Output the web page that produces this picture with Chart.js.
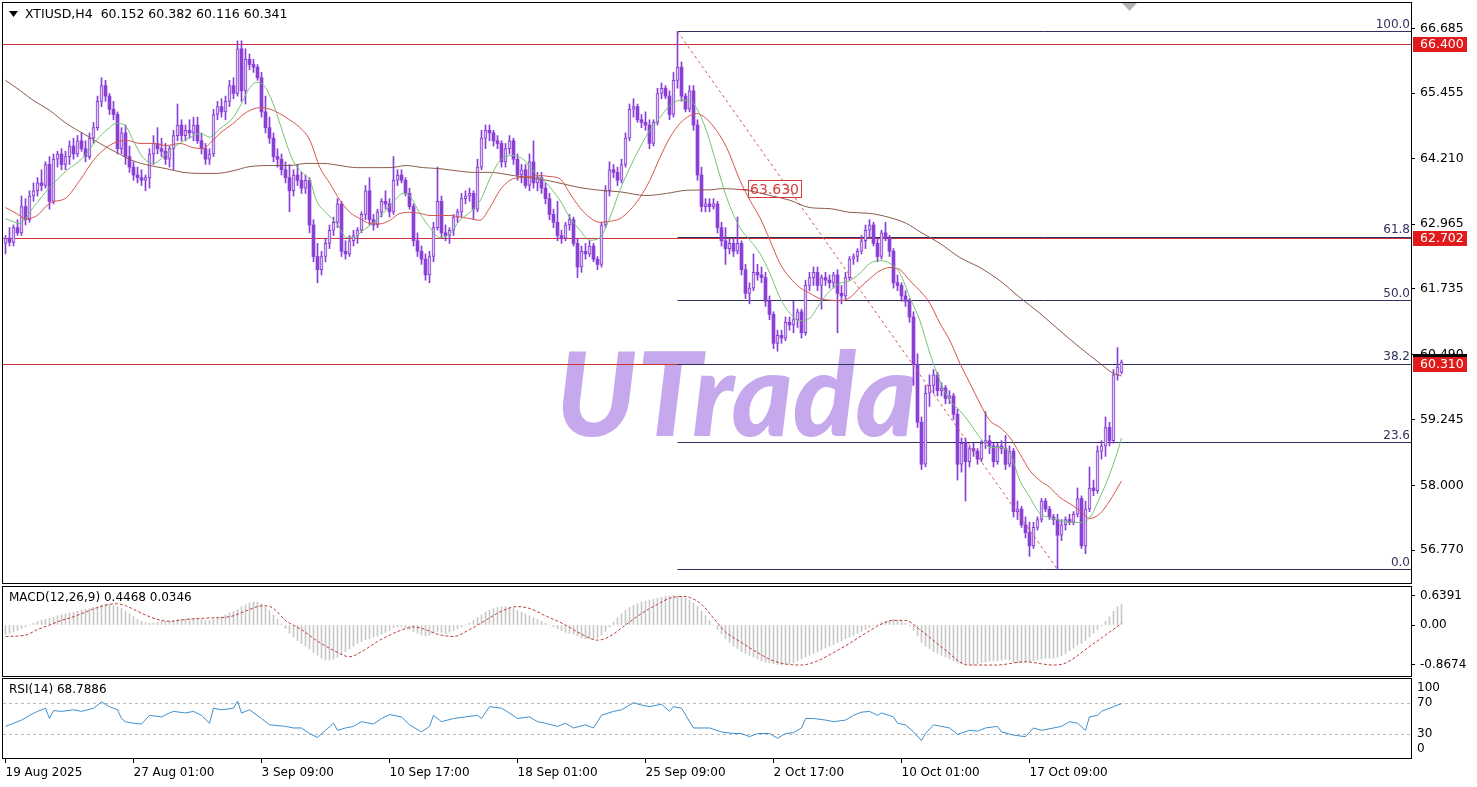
<!DOCTYPE html>
<html><head><meta charset="utf-8">
<script src="https://cdn.jsdelivr.net/npm/chart.js@4.4.1/dist/chart.umd.min.js"></script>
<style>
html,body{margin:0;padding:0;background:#fff;}
body{width:1477px;height:787px;overflow:hidden;position:relative;}
.pane{position:absolute;left:0;width:1477px;}
</style></head><body>
<div class="pane" style="top:0;height:585px"><canvas id="cMain"></canvas></div>
<div class="pane" style="top:585px;height:93px"><canvas id="cMacd"></canvas></div>
<div class="pane" style="top:678px;height:109px"><canvas id="cRsi"></canvas></div>
<script>
// ---------------- DATA ----------------
const symbol = 'XTIUSD,H4';
const xLabels = ['19 Aug 2025','27 Aug 01:00','3 Sep 09:00','10 Sep 17:00','18 Sep 01:00','25 Sep 09:00','2 Oct 17:00','10 Oct 01:00','17 Oct 09:00'];
const xLabelIdx = [0,32,64,96,128,160,192,224,256];
const priceTicks = [66.685,65.455,64.210,62.965,61.735,60.490,59.245,58.000,56.770];
const hLevels = [66.400,62.702,60.310];
const fibPct = [0,23.6,38.2,50.0,61.8,100.0];
const fibHiIdx = 168, fibLoIdx = 263;
const markIdx = 185.5, markVal = 63.630;
const macdTicks = [0.6391,0,-0.8674];
const rsiTicks = [100,70,30,0];
const rsiLevels = [70,30];

const opens = [
62.60,62.70,62.62,62.90,62.80,63.30,63.05,63.50,
63.60,63.75,63.70,64.10,63.40,64.20,64.30,64.10,
64.25,64.45,64.30,64.55,64.40,64.25,64.60,64.80,
65.30,65.60,65.40,65.15,65.05,64.40,64.70,64.25,
64.05,63.90,63.85,63.80,63.85,64.30,64.50,64.40,
64.35,64.20,64.40,64.65,64.85,64.65,64.75,64.70,
64.85,64.55,64.40,64.20,64.30,65.05,65.20,65.10,
65.30,65.60,65.45,66.30,65.50,66.10,66.00,65.95,
65.75,65.10,64.80,64.60,64.25,64.20,64.00,63.85,
63.60,63.90,63.80,63.65,63.80,62.95,62.35,62.10,
62.35,62.60,62.85,63.00,63.35,62.45,62.40,62.65,
62.75,62.85,63.15,63.60,63.05,62.95,63.20,63.40,
63.35,63.20,63.80,63.90,63.80,63.55,63.30,62.65,
62.45,62.30,62.00,62.35,62.90,63.40,62.80,62.75,
62.85,63.10,63.20,63.45,63.50,63.55,63.25,64.05,
64.60,64.75,64.70,64.55,64.50,64.15,64.40,64.55,
64.20,63.90,64.00,63.70,64.15,63.75,63.85,63.65,
63.45,63.15,63.00,62.75,62.70,62.95,63.05,62.60,
62.15,62.45,62.40,62.55,62.30,62.20,62.95,63.60,
64.00,63.95,63.80,64.10,64.60,65.15,65.20,64.95,
64.90,64.85,64.50,64.90,65.45,65.55,65.40,65.05,
65.70,65.95,65.40,65.15,65.50,64.85,63.90,63.30,
63.35,63.30,63.35,62.90,62.65,62.50,62.60,62.45,
62.60,62.10,61.65,61.75,62.05,62.00,61.95,61.50,
61.25,60.70,60.85,60.80,61.10,61.05,61.15,61.30,
60.90,61.80,61.95,62.05,61.80,61.95,61.90,61.85,
62.00,61.65,61.60,61.95,62.30,62.35,62.45,62.65,
62.85,62.95,62.60,62.35,62.80,62.70,62.45,61.85,
61.80,61.60,61.50,61.20,60.30,59.20,58.40,59.75,
59.90,60.10,59.80,59.85,59.65,59.70,59.35,58.40,
58.80,58.45,58.70,58.65,58.50,58.80,58.85,58.75,
58.45,58.75,58.70,58.40,58.65,57.50,57.55,57.25,
57.10,56.85,57.20,57.35,57.70,57.55,57.40,57.35,
57.05,57.25,57.35,57.30,57.45,57.75,56.85,57.55,
57.95,57.90,58.65,58.75,59.10,58.85,60.10,60.152];
const highs = [
62.75,62.90,62.95,63.05,63.50,63.45,63.60,63.75,
63.85,64.00,64.15,64.25,64.30,64.35,64.40,64.35,
64.55,64.60,64.65,64.70,64.55,64.70,64.90,65.40,
65.75,65.70,65.45,65.30,65.10,64.80,64.85,64.45,
64.15,64.05,64.00,63.90,64.40,64.65,64.80,64.60,
64.50,64.45,64.75,65.25,64.95,64.85,64.95,65.00,
65.00,64.70,64.50,64.40,65.15,65.30,65.35,65.40,
65.70,65.75,66.45,66.45,66.30,66.20,66.10,66.00,
65.85,65.40,65.00,64.70,64.40,64.30,64.15,64.10,
64.00,64.10,63.95,63.90,63.85,63.05,62.60,62.45,
62.70,62.95,63.10,63.45,63.40,62.65,62.75,62.85,
62.90,63.20,63.70,63.85,63.15,63.25,63.45,63.60,
63.45,64.25,64.00,64.00,63.85,63.65,63.35,62.80,
62.55,62.40,62.45,63.00,64.05,63.50,62.95,62.90,
63.15,63.25,63.55,63.60,63.65,63.60,64.20,64.75,
64.85,64.85,64.75,64.65,64.55,64.50,64.65,64.60,
64.30,64.10,64.10,64.30,64.55,63.95,63.95,63.75,
63.55,63.25,63.40,62.85,63.00,63.15,63.10,62.70,
62.55,62.60,62.65,62.60,62.35,63.00,63.70,64.15,
64.10,64.05,64.20,64.70,65.25,65.35,65.25,65.05,
65.10,64.95,64.95,65.55,65.65,65.60,65.50,65.85,
66.63,66.05,65.45,65.60,65.60,64.95,64.05,63.45,
63.45,63.45,63.40,63.00,62.90,62.70,62.70,63.10,
62.65,62.20,61.85,62.40,62.20,62.15,62.05,61.60,
61.30,60.95,60.95,61.20,61.20,61.50,61.35,61.35,
61.90,62.05,62.15,62.15,62.00,62.05,62.00,62.05,
62.10,61.80,62.05,62.35,62.40,62.50,62.75,62.95,
63.05,63.00,62.70,62.85,63.00,62.75,62.50,62.00,
61.85,61.70,61.55,61.30,60.50,59.30,59.90,60.10,
60.20,60.15,59.95,59.90,59.80,59.75,59.45,58.90,
58.90,58.75,58.80,58.70,58.85,59.40,58.95,58.80,
58.80,58.85,58.95,58.75,58.70,57.70,57.60,57.40,
57.30,57.30,57.40,57.75,57.75,57.60,57.45,57.45,
57.35,57.40,57.45,57.50,57.95,57.80,57.70,58.35,
58.10,58.75,58.85,59.30,59.20,60.20,60.62,60.382];
const lows = [
62.40,62.55,62.55,62.75,62.75,62.95,63.00,63.40,
63.50,63.60,63.65,63.25,63.35,64.05,64.00,64.00,
64.10,64.20,64.25,64.35,64.15,64.20,64.50,64.75,
65.20,65.30,65.05,64.95,64.30,64.30,64.10,63.95,
63.80,63.75,63.70,63.60,63.65,64.10,64.30,64.25,
64.10,64.05,64.00,64.55,64.55,64.55,64.60,64.55,
64.50,64.30,64.10,64.10,64.25,64.95,65.00,64.95,
65.20,65.35,65.40,65.30,65.25,65.90,65.85,65.70,
65.00,64.70,64.50,64.15,64.05,63.90,63.75,63.20,
63.50,63.70,63.55,63.55,62.80,62.25,61.85,62.00,
62.25,62.50,62.75,62.90,62.35,62.30,62.35,62.55,
62.60,62.80,63.05,62.95,62.85,62.90,63.10,63.25,
63.10,63.15,63.70,63.75,63.50,63.25,62.55,62.35,
62.20,61.90,61.85,62.25,62.85,62.70,62.65,62.60,
62.75,63.00,63.10,63.35,63.40,63.05,63.20,64.00,
64.40,64.55,64.45,64.40,64.05,64.05,64.30,64.10,
63.80,63.75,63.65,63.60,63.65,63.60,63.55,63.35,
63.05,62.90,62.65,62.60,62.65,62.85,62.55,61.95,
62.05,62.30,62.35,62.25,62.10,62.15,62.90,63.50,
63.85,63.70,63.75,64.05,64.55,65.00,64.90,64.80,
64.75,64.40,64.45,64.85,65.35,65.35,64.95,65.00,
65.55,65.30,65.10,65.10,64.75,63.80,63.20,63.20,
63.20,63.25,62.80,62.55,62.20,62.40,62.35,62.40,
62.00,61.55,61.45,61.70,61.90,61.85,61.40,61.15,
60.60,60.55,60.70,60.75,60.95,60.90,61.00,60.80,
60.85,61.70,61.80,61.70,61.35,61.80,61.75,61.75,
60.90,61.45,61.55,61.90,62.20,62.25,62.40,62.50,
62.70,62.55,62.25,62.30,62.65,62.35,61.75,61.70,
61.50,61.40,61.10,59.90,59.10,58.30,58.35,59.50,
59.75,59.70,59.70,59.55,59.55,59.25,58.10,58.25,
57.70,58.35,58.55,58.40,58.45,58.70,58.60,58.35,
58.40,58.60,58.30,58.35,57.40,57.35,57.20,57.00,
56.65,56.80,57.15,57.30,57.50,57.35,57.25,56.40,
56.95,57.15,57.25,57.25,57.40,56.80,56.70,57.50,
57.80,57.85,58.50,58.55,58.75,58.80,60.00,60.116];
const closes = [
62.70,62.62,62.90,62.80,63.30,63.05,63.50,63.60,
63.75,63.70,64.10,63.40,64.20,64.30,64.10,64.25,
64.45,64.30,64.55,64.40,64.25,64.60,64.80,65.30,
65.60,65.40,65.15,65.05,64.40,64.70,64.25,64.05,
63.90,63.85,63.80,63.85,64.30,64.50,64.40,64.35,
64.20,64.40,64.65,64.85,64.65,64.75,64.70,64.85,
64.55,64.40,64.20,64.30,65.05,65.20,65.10,65.30,
65.60,65.45,66.30,65.50,66.10,66.00,65.95,65.75,
65.10,64.80,64.60,64.25,64.20,64.00,63.85,63.60,
63.90,63.80,63.65,63.80,62.95,62.35,62.10,62.35,
62.60,62.85,63.00,63.35,62.45,62.40,62.65,62.75,
62.85,63.15,63.60,63.05,62.95,63.20,63.40,63.35,
63.20,63.80,63.90,63.80,63.55,63.30,62.65,62.45,
62.30,62.00,62.35,62.90,63.40,62.80,62.75,62.85,
63.10,63.20,63.45,63.50,63.55,63.25,64.05,64.60,
64.75,64.70,64.55,64.50,64.15,64.40,64.55,64.20,
63.90,64.00,63.70,64.15,63.75,63.85,63.65,63.45,
63.15,63.00,62.75,62.70,62.95,63.05,62.60,62.15,
62.45,62.40,62.55,62.30,62.20,62.95,63.60,64.00,
63.95,63.80,64.10,64.60,65.15,65.20,64.95,64.90,
64.85,64.50,64.90,65.45,65.55,65.40,65.05,65.70,
65.95,65.40,65.15,65.50,64.85,63.90,63.30,63.35,
63.30,63.35,62.90,62.65,62.50,62.60,62.45,62.60,
62.10,61.65,61.75,62.05,62.00,61.95,61.50,61.25,
60.70,60.85,60.80,61.10,61.05,61.15,61.30,60.90,
61.80,61.95,62.05,61.80,61.95,61.90,61.85,62.00,
61.65,61.60,61.95,62.30,62.35,62.45,62.65,62.85,
62.95,62.60,62.35,62.80,62.70,62.45,61.85,61.80,
61.60,61.50,61.20,60.30,59.20,58.40,59.75,59.90,
60.10,59.80,59.85,59.65,59.70,59.35,58.40,58.80,
58.45,58.70,58.65,58.50,58.80,58.85,58.75,58.45,
58.75,58.70,58.40,58.65,57.50,57.55,57.25,57.10,
56.85,57.20,57.35,57.70,57.55,57.40,57.35,57.05,
57.25,57.35,57.30,57.45,57.75,56.85,57.55,57.95,
57.90,58.65,58.75,59.10,58.85,60.10,60.25,60.341];

// moving averages: [bar index, value]
const maFast = [[0,63.07],[3.6,62.98],[6.9,63.28],[11,63.66],[15.2,63.98],[19.4,64.23],[22.7,64.56],[26,64.80],[27.7,64.88],[29.8,64.85],[31.9,64.56],[34.4,64.23],[36.9,64.12],[40.2,64.30],[42.7,64.46],[46.1,64.61],[48.6,64.69],[51.1,64.62],[53.6,64.78],[56.9,64.99],[59.4,65.32],[60.2,65.45],[62.7,65.66],[64.4,65.62],[66.9,65.26],[69.4,64.69],[71.9,64.17],[74.4,63.93],[76.1,63.80],[77.7,63.42],[80.3,63.17],[82.8,62.98],[85.3,62.71],[86.9,62.71],[89.4,62.85],[91.9,62.98],[94.4,63.17],[96.9,63.38],[99.4,63.55],[101.1,63.50],[103.6,63.17],[106.1,62.90],[108.6,62.71],[111.1,62.78],[113.6,63.04],[116.1,63.19],[118.6,63.40],[121.1,63.83],[123.6,64.17],[126.9,64.27],[129.4,64.20],[131.9,63.98],[135.3,63.74],[138.6,63.42],[141.1,63.09],[143.6,62.85],[146.1,62.66],[148.6,62.71],[151.1,63.09],[153.6,63.61],[156.1,64.04],[158.6,64.42],[161.1,64.75],[163.6,64.99],[166.1,65.22],[168.6,65.32],[171.1,65.32],[172.7,65.18],[175.2,64.75],[177.7,64.12],[180.3,63.47],[183.6,62.90],[186.1,62.66],[188.6,62.41],[191.1,62.03],[193.6,61.57],[196.1,61.27],[198.6,61.13],[201.1,61.18],[203.6,61.46],[206.1,61.70],[208.6,61.84],[211.1,61.89],[213.6,62.03],[216.1,62.22],[218.6,62.27],[221.1,62.22],[223.6,62.03],[226.1,61.57],[228.6,61.13],[231.1,60.51],[233.6,59.99],[236.1,59.61],[238.6,59.42],[241.1,59.18],[243.6,58.91],[246.1,58.72],[248.6,58.72],[251.1,58.60],[253.6,58.09],[256.1,57.77],[258.6,57.46],[261.1,57.39],[263.6,57.33],[266.1,57.30],[268.6,57.29],[271.1,57.39],[273.6,57.77],[276.1,58.22],[278.6,58.79],[279,58.90]];
const maMid = [[0,63.28],[2.7,63.17],[5.2,63.07],[7.7,63.12],[11,63.36],[15.2,63.47],[18.6,63.80],[21.9,64.17],[24.4,64.37],[26.9,64.50],[30.2,64.56],[33.6,64.50],[36.9,64.50],[40.2,64.46],[43.6,64.50],[46.9,64.42],[49.4,64.40],[51.1,64.50],[53.6,64.69],[56.9,64.88],[60.2,65.09],[63.6,65.18],[66.9,65.13],[70.2,64.99],[73.6,64.80],[76.1,64.56],[78.6,64.04],[81.1,63.74],[83.6,63.42],[86.1,63.19],[88.6,63.07],[91.1,62.98],[93.6,62.97],[96.1,63.04],[98.6,63.17],[101.1,63.19],[103.6,63.17],[106.1,63.13],[108.6,63.13],[111.1,63.13],[113.6,63.10],[116.1,63.07],[118.6,63.04],[121.1,63.28],[123.6,63.61],[126.1,63.80],[128.6,63.85],[131.1,63.87],[133.6,63.89],[136.1,63.87],[138.6,63.83],[141.1,63.55],[143.6,63.28],[146.1,63.09],[148.6,63.00],[151.1,63.02],[153.6,63.07],[156.1,63.23],[158.6,63.47],[161.1,63.80],[163.6,64.23],[166.1,64.61],[168.6,64.88],[171.1,65.03],[172.7,65.07],[175.2,64.97],[177.7,64.75],[180.3,64.42],[183.6,63.80],[186.1,63.42],[188.6,63.09],[191.1,62.66],[193.6,62.22],[196.1,61.95],[198.6,61.76],[201.1,61.65],[203.6,61.55],[206.1,61.52],[208.6,61.51],[211.1,61.57],[213.6,61.76],[216.1,61.93],[218.6,62.08],[221.1,62.14],[223.6,62.10],[226.1,61.89],[228.6,61.70],[231.1,61.46],[233.6,61.08],[236.1,60.75],[238.6,60.32],[241.1,59.94],[243.6,59.56],[246.1,59.23],[248.6,59.10],[251.1,58.91],[253.6,58.60],[256.1,58.28],[258.6,58.09],[261.1,57.96],[263.6,57.77],[266.1,57.65],[268.6,57.52],[271.1,57.37],[273.6,57.46],[276.1,57.71],[278.6,58.03],[279,58.08]];
const maSlow = [[0,65.70],[3.6,65.51],[6.9,65.32],[11,65.13],[15.2,64.88],[19.4,64.69],[23.6,64.50],[27.7,64.33],[31.9,64.17],[36.1,64.08],[40.2,64.02],[44.4,63.95],[48.6,63.93],[52.8,63.93],[56.9,63.98],[61.1,64.06],[66.9,64.08],[71.1,64.08],[75.2,64.12],[79.4,64.12],[83.6,64.08],[87.7,64.04],[91.9,64.04],[96.1,64.04],[100.2,64.08],[104.4,64.04],[108.6,64.02],[112.7,63.98],[116.9,63.95],[121.1,63.95],[126.9,63.89],[135.3,63.80],[143.6,63.66],[148.6,63.61],[153.6,63.58],[160.2,63.51],[165.3,63.55],[170.3,63.61],[176.9,63.62],[178.6,63.64],[185.2,63.61],[191.1,63.51],[196.1,63.42],[201.1,63.28],[206.1,63.26],[211.1,63.19],[216.1,63.17],[221.1,63.09],[225.2,62.98],[228.6,62.82],[233.6,62.60],[238.6,62.33],[243.6,62.14],[248.6,61.89],[253.6,61.57],[258.6,61.27],[263.6,60.94],[268.6,60.62],[273.6,60.32],[276.9,60.13],[279,60.08]];

// MACD(12,26,9): main (histogram), one value per bar; signal
const macdMain = [
-0.20,-0.18,-0.15,-0.12,-0.08,-0.04,0.00,0.04,0.08,0.10,
0.12,0.14,0.17,0.20,0.22,0.24,0.26,0.28,0.30,0.32,
0.34,0.36,0.38,0.40,0.43,0.45,0.44,0.42,0.40,0.36,
0.30,0.24,0.18,0.12,0.08,0.05,0.04,0.05,0.06,0.08,
0.08,0.09,0.10,0.12,0.12,0.13,0.14,0.13,0.12,0.12,
0.10,0.10,0.12,0.15,0.18,0.22,0.26,0.30,0.34,0.40,
0.44,0.48,0.50,0.50,0.46,0.40,0.32,0.22,0.12,0.02,
-0.08,-0.18,-0.26,-0.34,-0.40,-0.46,-0.52,-0.60,-0.66,-0.72,
-0.76,-0.76,-0.74,-0.70,-0.64,-0.58,-0.52,-0.46,-0.40,-0.36,
-0.32,-0.30,-0.26,-0.24,-0.20,-0.16,-0.12,-0.06,-0.04,-0.04,
-0.06,-0.10,-0.14,-0.18,-0.22,-0.24,-0.22,-0.18,-0.14,-0.16,
-0.18,-0.16,-0.12,-0.08,-0.04,0.00,0.04,0.10,0.16,0.22,
0.28,0.32,0.36,0.38,0.40,0.40,0.38,0.36,0.32,0.28,
0.24,0.20,0.16,0.12,0.08,0.04,0.00,-0.04,-0.08,-0.12,
-0.16,-0.18,-0.20,-0.24,-0.28,-0.30,-0.30,-0.30,-0.28,-0.22,
-0.14,-0.04,0.06,0.16,0.24,0.32,0.38,0.42,0.46,0.50,
0.52,0.54,0.56,0.58,0.60,0.62,0.63,0.6391,0.63,0.62,
0.58,0.54,0.48,0.40,0.30,0.20,0.10,0.00,-0.10,-0.20,
-0.30,-0.38,-0.46,-0.52,-0.58,-0.62,-0.66,-0.70,-0.74,-0.78,
-0.80,-0.82,-0.84,-0.86,-0.8674,-0.86,-0.84,-0.82,-0.78,-0.74,
-0.70,-0.66,-0.62,-0.58,-0.54,-0.50,-0.46,-0.42,-0.38,-0.34,
-0.30,-0.26,-0.22,-0.18,-0.14,-0.10,-0.06,-0.02,0.02,0.06,
0.08,0.10,0.12,0.10,0.08,0.04,-0.02,-0.12,-0.24,-0.38,
-0.46,-0.52,-0.58,-0.62,-0.66,-0.70,-0.74,-0.78,-0.82,-0.84,
-0.86,-0.86,-0.86,-0.84,-0.82,-0.80,-0.78,-0.78,-0.78,-0.76,
-0.74,-0.76,-0.80,-0.82,-0.82,-0.80,-0.80,-0.78,-0.76,-0.74,
-0.72,-0.72,-0.72,-0.70,-0.66,-0.62,-0.56,-0.50,-0.44,-0.40,
-0.34,-0.26,-0.18,-0.10,-0.02,0.08,0.18,0.30,0.40,0.4468];
const macdSignal = [[0,-0.25],[5,-0.22],[8,-0.10],[11,0.00],[14,0.10],[17,0.18],[20,0.28],[23,0.38],[26,0.45],[28,0.46],[30,0.42],[33,0.30],[36,0.18],[39,0.10],[41,0.08],[45,0.12],[50,0.15],[56,0.18],[60,0.30],[63,0.40],[65,0.42],[67,0.36],[70,0.10],[74,-0.10],[78,-0.35],[82,-0.55],[86,-0.69],[89,-0.58],[93,-0.36],[97,-0.18],[100,-0.08],[102,-0.04],[105,-0.10],[108,-0.20],[112,-0.25],[116,-0.10],[120,0.10],[124,0.30],[128,0.40],[131,0.36],[135,0.20],[140,0.00],[144,-0.20],[148,-0.33],[151,-0.25],[155,0.00],[159,0.25],[163,0.45],[166,0.58],[169,0.62],[171,0.60],[174,0.45],[177,0.15],[180,-0.15],[184,-0.38],[188,-0.60],[192,-0.78],[196,-0.86],[199,-0.87],[203,-0.78],[207,-0.60],[211,-0.40],[215,-0.18],[219,0.02],[222,0.10],[225,0.10],[228.6,-0.10],[234.6,-0.52],[240.6,-0.87],[247.8,-0.87],[254.8,-0.80],[262,-0.87],[264.3,-0.85],[271.6,-0.43],[279,0.0346]];

// RSI(14): [bar index, value]
const rsi = [[0,40],[2,44],[4,48],[6,54],[8,59],[10,63],[11,50],[12,60],[14,59],[17,61],[19,59],[22,63],[24,71],[26,65],[28,61],[29,50],[30,46],[32,44],[34,43],[36,54],[39,52],[41,57],[42,59],[45,57],[47,59],[49,54],[51,44],[52,63],[54,61],[57,63],[58,72],[59,57],[61,61],[64,50],[66,42],[70,40],[72,38],[74,38],[76,31],[78,26],[80,35],[82,44],[83,35],[85,38],[87,40],[89,46],[92,43],[94,50],[96,55],[99,52],[101,42],[104,33],[106,40],[107,54],[109,46],[112,50],[115,52],[118,54],[119,50],[121,65],[124,63],[126,57],[128,50],[131,52],[133,46],[135,44],[138,40],[140,44],[142,38],[145,42],[147,38],[149,54],[152,59],[154,61],[157,70],[159,67],[161,65],[164,68],[166,59],[167,65],[169,63],[172,38],[174,38],[176,38],[179,33],[182,31],[184,31],[186,27],[188,31],[191,31],[193,25],[195,31],[197,32],[199,38],[200,50],[202,50],[205,48],[207,46],[210,48],[212,54],[214,58],[216,59],[218,54],[219,57],[222,52],[223,44],[225,42],[227,33],[229,22],[230,31],[232,42],[234,40],[236,38],[238,30],[241,35],[243,34],[245,38],[248,40],[249,33],[252,29],[255,27],[257,38],[259,35],[262,38],[264,40],[266,46],[268,44],[270,35],[271,52],[273,54],[274,59],[276,63],[278,67],[279,68.7886]];

// ---------------- STYLE ----------------
const FONT = '"DejaVu Sans", Verdana, sans-serif';
Chart.defaults.font.family = FONT;
Chart.defaults.font.size = 12;
Chart.defaults.color = '#000';
Chart.defaults.animation = false;
const PURPLE = '#8a3fd6', BULL = '#d9c6f3';
const X_MIN = -0.625, X_MAX = 351.375, AXIS_W = 66;
const idx = closes.map((_, i) => i);
const pts = arr => arr.map(p => ({x: p[0], y: p[1]}));
function noPad(s) { s.paddingTop = 0; s.paddingBottom = 0; s.paddingLeft = 0; s.paddingRight = 0; }

function xHidden() {
  return {type: 'linear', min: X_MIN, max: X_MAX, offset: false, display: false, grid: {offset: false}};
}
const basePlugins = {legend: {display: false}, tooltip: {enabled: false}};

const frame = {
  id: 'frame',
  afterDraw(chart) {
    const {ctx, chartArea: a} = chart;
    ctx.save();
    ctx.strokeStyle = '#000'; ctx.lineWidth = 1;
    ctx.strokeRect(a.left - 0.5, a.top - 0.5, a.right - a.left + 1, a.bottom - a.top + 1);
    ctx.restore();
  }
};

// ---------------- MAIN CHART ----------------
const fibHi = highs[fibHiIdx], fibLo = lows[fibLoIdx];
const mainOverlay = {
  id: 'mainOverlay',
  beforeDatasetsDraw(chart) {
    const {ctx, chartArea: a, scales: {x, y}} = chart;
    ctx.save();
    // watermark
    ctx.font = 'italic 900 116px Lato';
    ctx.fillStyle = 'rgba(172,132,228,0.70)';
    ctx.textBaseline = 'alphabetic';
    ctx.fillText('UTrada', 556, 436);
    // horizontal levels
    ctx.lineWidth = 1;
    ctx.strokeStyle = '#cc3333';
    hLevels.forEach(v => {
      const py = Math.round(y.getPixelForValue(v)) + 0.5;
      ctx.beginPath(); ctx.moveTo(a.left, py); ctx.lineTo(a.right, py); ctx.stroke();
    });
    // fibonacci
    ctx.strokeStyle = '#30305e';
    const fx = x.getPixelForValue(fibHiIdx);
    fibPct.forEach(p => {
      const v = fibLo + (fibHi - fibLo) * p / 100;
      const py = Math.round(y.getPixelForValue(v)) + 0.5;
      ctx.beginPath(); ctx.moveTo(fx, py); ctx.lineTo(a.right, py); ctx.stroke();
    });
    ctx.restore();
  },
  afterDraw(chart) {
    const {ctx, chartArea: a, scales: {x, y}} = chart;
    ctx.save();
    // fib labels
    ctx.font = '12px ' + FONT;
    ctx.fillStyle = '#30305e';
    ctx.textAlign = 'right'; ctx.textBaseline = 'bottom';
    fibPct.forEach(p => {
      const v = fibLo + (fibHi - fibLo) * p / 100;
      ctx.fillText(p.toFixed(1), a.right - 1, y.getPixelForValue(v) - 1);
    });
    // price marker 63.630
    const mx = x.getPixelForValue(markIdx), my = y.getPixelForValue(markVal);
    ctx.strokeStyle = '#d43c3c'; ctx.fillStyle = '#d43c3c';
    ctx.beginPath(); ctx.moveTo(mx - 10, Math.round(my) + 0.5); ctx.lineTo(mx, Math.round(my) + 0.5); ctx.stroke();
    ctx.font = '14px ' + FONT;
    const mt = markVal.toFixed(3);
    const mw = ctx.measureText(mt).width;
    ctx.strokeRect(Math.round(mx) + 0.5, Math.round(my) - 8.5, mw + 4, 17);
    ctx.textAlign = 'left'; ctx.textBaseline = 'middle';
    ctx.fillText(mt, mx + 2.5, my + 1);
    // axis price boxes
    ctx.font = '12.5px ' + FONT;
    const bx = a.right + 2, bw = 54;
    const cy = y.getPixelForValue(closes[closes.length - 1]);
    ctx.fillStyle = '#000';
    ctx.fillRect(bx, Math.round(cy) - 8, bw, 15);
    hLevels.forEach(v => {
      const py = Math.round(y.getPixelForValue(v));
      ctx.fillStyle = '#e11b1b';
      ctx.fillRect(bx, py - 7, bw, 15);
      ctx.fillStyle = '#fff';
      ctx.fillText(v.toFixed(3), bx + 7, py + 1);
    });
    // title
    ctx.fillStyle = '#000';
    ctx.beginPath(); ctx.moveTo(9, 11); ctx.lineTo(18, 11); ctx.lineTo(13.5, 17); ctx.closePath(); ctx.fill();
    ctx.font = '12.5px ' + FONT;
    const n = closes.length - 1;
    ctx.fillText(symbol + '  ' + [opens[n], highs[n], lows[n], closes[n]].map(v => v.toFixed(3)).join(' '), 25, 15);
    // chart-shift marker
    ctx.fillStyle = '#b4b4b4';
    ctx.beginPath(); ctx.moveTo(1122, a.top); ctx.lineTo(1137, a.top); ctx.lineTo(1129.5, a.top + 8); ctx.closePath(); ctx.fill();
    ctx.restore();
  }
};

new Chart(document.getElementById('cMain'), {
  type: 'bar',
  data: {datasets: [
    {type: 'line', data: pts(maFast), borderColor: '#74c274', borderWidth: 1, pointRadius: 0, cubicInterpolationMode: 'monotone', order: 1},
    {type: 'line', data: pts(maMid), borderColor: '#d4554a', borderWidth: 1, pointRadius: 0, cubicInterpolationMode: 'monotone', order: 1},
    {type: 'line', data: pts(maSlow), borderColor: '#8c5a4c', borderWidth: 1, pointRadius: 0, cubicInterpolationMode: 'monotone', order: 1},
    {type: 'line', data: [{x: fibHiIdx, y: fibHi}, {x: fibLoIdx, y: fibLo}], borderColor: '#d65a5a', borderDash: [3, 3], borderWidth: 1, pointRadius: 0, order: 2},
    {label: 'body', data: idx.map(i => ({x: i, y: [opens[i], closes[i]]})),
      backgroundColor: idx.map(i => closes[i] >= opens[i] ? BULL : PURPLE),
      borderColor: PURPLE, borderWidth: idx.map(i => closes[i] >= opens[i] ? 1 : 0), borderSkipped: false,
      barThickness: 3, minBarLength: 1, grouped: false, order: 3},
    {label: 'wick', data: idx.map(i => ({x: i, y: [lows[i], highs[i]]})), backgroundColor: PURPLE, barThickness: 1, grouped: false, order: 4}
  ]},
  options: {
    responsive: true, maintainAspectRatio: false, devicePixelRatio: 1, events: [],
    layout: {padding: {left: 3, top: 3, right: 0, bottom: 2}},
    plugins: basePlugins,
    scales: {
      x: xHidden(),
      y: {position: 'right', min: 56.143, max: 67.170,
        afterFit(s) { s.width = AXIS_W; noPad(s); },
        afterBuildTicks(s) { s.ticks = priceTicks.map(v => ({value: v})); },
        ticks: {callback: v => v.toFixed(3), padding: 5, font: {size: 12.5}},
        grid: {drawOnChartArea: false, tickLength: 4, color: '#000'},
        border: {display: false}}
    }
  },
  plugins: [mainOverlay, frame]
});

// ---------------- MACD ----------------
const macdOverlay = {
  id: 'macdOverlay',
  afterDraw(chart) {
    const {ctx} = chart;
    ctx.save();
    ctx.font = '12px ' + FONT; ctx.fillStyle = '#000'; ctx.textBaseline = 'middle';
    ctx.fillText('MACD(12,26,9) ' + macdMain[macdMain.length - 1].toFixed(4) + ' ' + macdSignal[macdSignal.length - 1][1].toFixed(4), 9, 13);
    ctx.restore();
  }
};
new Chart(document.getElementById('cMacd'), {
  type: 'bar',
  data: {datasets: [
    {type: 'line', data: pts(macdSignal), borderColor: '#b8403c', borderDash: [3, 2], borderWidth: 1, pointRadius: 0, cubicInterpolationMode: 'monotone', order: 1},
    {data: idx.map(i => ({x: i, y: macdMain[i]})), backgroundColor: '#c8c8c8', barThickness: 1, grouped: false, order: 2}
  ]},
  options: {
    responsive: true, maintainAspectRatio: false, devicePixelRatio: 1, events: [],
    layout: {padding: {left: 3, top: 2, right: 0, bottom: 2}},
    plugins: basePlugins,
    scales: {
      x: xHidden(),
      y: {position: 'right', min: -1.1087, max: 0.8261,
        afterFit(s) { s.width = AXIS_W; noPad(s); },
        afterBuildTicks(s) { s.ticks = macdTicks.map(v => ({value: v})); },
        ticks: {callback: v => v === 0 ? '0.00' : v.toFixed(4), padding: 5, font: {size: 12}},
        grid: {drawOnChartArea: false, tickLength: 4, color: '#000'},
        border: {display: false}}
    }
  },
  plugins: [macdOverlay, frame]
});

// ---------------- RSI ----------------
const rsiOverlay = {
  id: 'rsiOverlay',
  beforeDatasetsDraw(chart) {
    const {ctx, chartArea: a, scales: {y}} = chart;
    ctx.save();
    ctx.strokeStyle = '#b8b8b8'; ctx.setLineDash([3, 3]); ctx.lineWidth = 1;
    rsiLevels.forEach(v => {
      const py = Math.round(y.getPixelForValue(v)) + 0.5;
      ctx.beginPath(); ctx.moveTo(a.left, py); ctx.lineTo(a.right, py); ctx.stroke();
    });
    ctx.restore();
  },
  afterDraw(chart) {
    const {ctx, chartArea: a, scales: {y}} = chart;
    ctx.save();
    ctx.font = '12px ' + FONT; ctx.fillStyle = '#000'; ctx.textBaseline = 'middle';
    ctx.fillText('RSI(14) ' + rsi[rsi.length - 1][1].toFixed(4), 9, 12);
    rsiTicks.forEach(v => {
      const py = y.getPixelForValue(v);
      const ly = Math.min(Math.max(py, a.top + 9), a.bottom - 9);
      ctx.fillText(String(v), a.right + 6, ly);
    });
    ctx.restore();
  }
};
new Chart(document.getElementById('cRsi'), {
  type: 'line',
  data: {datasets: [
    {data: pts(rsi), borderColor: '#3f8fcc', borderWidth: 1, pointRadius: 0, tension: 0}
  ]},
  options: {
    responsive: true, maintainAspectRatio: false, devicePixelRatio: 1, events: [],
    layout: {padding: {left: 3, top: 1, right: 0, bottom: 0}},
    plugins: basePlugins,
    scales: {
      x: {type: 'linear', min: X_MIN, max: X_MAX, position: 'bottom', offset: false,
        afterFit(s) { s.height = 29; noPad(s); },
        afterBuildTicks(s) { s.ticks = xLabelIdx.map(v => ({value: v})); },
        ticks: {callback: v => xLabels[xLabelIdx.indexOf(v)], align: 'start', maxRotation: 0, autoSkip: false, padding: 3, font: {size: 12}},
        grid: {drawOnChartArea: false, tickLength: 5, color: '#000', offset: false},
        border: {display: false}},
      y: {position: 'right', min: 0, max: 100,
        afterFit(s) { s.width = AXIS_W; noPad(s); },
        ticks: {display: false},
        grid: {display: false},
        border: {display: false}}
    }
  },
  plugins: [rsiOverlay, frame]
});
</script>
</body></html>
